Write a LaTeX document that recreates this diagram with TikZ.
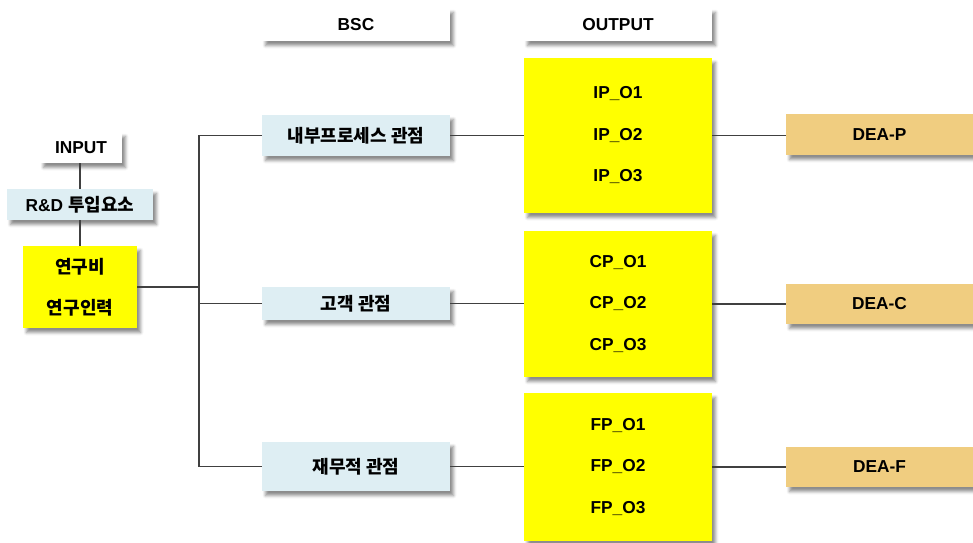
\documentclass[tikz,border=0pt]{standalone}
\usepackage{fontspec}
\setmainfont{Liberation Sans}
\newfontfamily\krfont{Noto Sans CJK KR}
\usetikzlibrary{shadows.blur}

\definecolor{boxyellow}{RGB}{255,255,0}
\definecolor{paleblue}{RGB}{222,238,243}
\definecolor{deatan}{RGB}{240,205,128}
\definecolor{linegray}{RGB}{64,64,64}

\begin{document}
\begin{tikzpicture}[x=1pt,y=-1pt,
  base/.style={anchor=north west, inner sep=0pt, outer sep=0pt, align=center,
    font=\bfseries\fontsize{17.3}{20}\selectfont,
    blur shadow={shadow xshift=3.5pt, shadow yshift=-4.5pt,
      shadow blur radius=3pt, shadow opacity=45}},
  sz/.style 2 args={minimum width=#1pt, minimum height=#2pt},
  whitebox/.style={base, fill=white},
  bluebox/.style={base, fill=paleblue},
  yellowbox/.style={base, fill=boxyellow},
  deabox/.style={base, fill=deatan},
  kr/.style={font=\krfont\bfseries\fontsize{18}{20}\selectfont},
  multi/.style={font=\bfseries\fontsize{17.3}{41.5}\selectfont},
  link/.style={draw=linegray, line width=1.2pt}
]
\useasboundingbox (0,0) rectangle (973,542);
\clip (0,0) rectangle (973,542);

% input side
\node[whitebox, sz={82}{31}] (inp) at (40,132) {INPUT};
\node[bluebox, sz={146}{31}] (rd) at (7,189) {R\&D {\krfont\bfseries\fontsize{18}{20}\selectfont 투입요소}};
\node[yellowbox, sz={114}{82}, font=\krfont\bfseries\fontsize{18}{41}\selectfont] (res) at (23,246) {연구비\\연구인력};

% column headers
\node[whitebox, sz={188}{33}] (hbsc) at (262,8) {BSC};
\node[whitebox, sz={188}{33}] (hout) at (524,8) {OUTPUT};

% BSC perspectives
\node[bluebox, sz={188}{41}, kr] (p1) at (262,115) {내부프로세스 관점};
\node[bluebox, sz={188}{33}, kr] (p2) at (262,287) {고객 관점};
\node[bluebox, sz={188}{49}, kr] (p3) at (262,442) {재무적 관점};

% output indicators
\node[yellowbox, sz={188}{155}, multi] (o1) at (524,58) {IP\_O1\\IP\_O2\\IP\_O3};
\node[yellowbox, sz={188}{146}, multi] (o2) at (524,231) {CP\_O1\\CP\_O2\\CP\_O3};
\node[yellowbox, sz={188}{148}, multi] (o3) at (524,393) {FP\_O1\\FP\_O2\\FP\_O3};

% DEA models
\node[deabox, sz={187}{41}] (d1) at (786,114) {DEA-P};
\node[deabox, sz={187}{40}] (d2) at (786,284) {DEA-C};
\node[deabox, sz={187}{40}] (d3) at (786,447) {DEA-F};

% connectors
\coordinate (trunk) at (199,0);
\coordinate (stem) at (80,0);
\draw[link] (inp.south -| stem) -- (rd.north -| stem);
\draw[link] (rd.south -| stem) -- (res.north -| stem);
\draw[link] (res.east) -- (res.east -| trunk);
\draw[link] (p1.west) -- (p1.west -| trunk) -- (p3.west -| trunk) -- (p3.west);
\draw[link] (p2.west) -- (p2.west -| trunk);
\draw[link] (p1.east) -- (p1.east -| o1.west);
\draw[link] (p2.east) -- (p2.east -| o2.west);
\draw[link] (p3.east) -- (p3.east -| o3.west);
\draw[link] (o1.east) -- (o1.east -| d1.west);
\draw[link] (o2.east) -- (o2.east -| d2.west);
\draw[link] (o3.east) -- (o3.east -| d3.west);
\end{tikzpicture}
\end{document}
